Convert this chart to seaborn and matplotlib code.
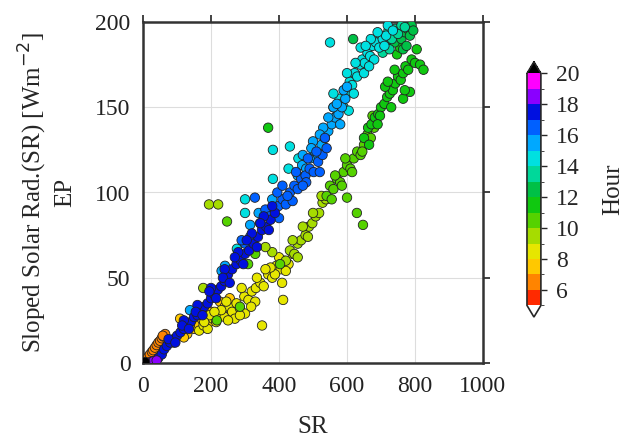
import numpy as np
import pandas as pd
import matplotlib
matplotlib.use("Agg")
import matplotlib.pyplot as plt
import matplotlib.colors as mcolors
import seaborn as sns

#### values, one group per hour bin
sr_h05 = [6, 12]
ep_h05 = [0.8, 2]
sr_h06 = [10, 15, 20, 26, 30, 35, 40, 45, 50, 55, 60, 65, 58]
ep_h06 = [2, 3.5, 5, 6.5, 7.5, 9, 10.5, 12, 13, 14.5, 15.5, 17, 16]
sr_h07 = [90, 109, 130, 150, 165, 175, 182, 195, 210, 226, 240, 255, 120, 200, 235]
ep_h07 = [12, 26, 17, 20, 22, 25, 21, 24, 27, 36, 33, 38, 15, 30, 28]
sr_h08 = [165, 178, 190, 205, 215, 228, 240, 252, 262, 275, 285, 298, 310, 320, 332,
          345, 355, 368, 380, 392, 405, 415, 428, 440, 350, 412, 409, 270,
          300, 330, 388, 195, 230, 250, 285, 318,
          180, 210, 245, 290, 335, 375, 420, 360, 400]
ep_h08 = [19, 22, 20, 26, 24, 28, 27, 33, 30, 35, 32, 39, 37, 42, 44,
          47, 45, 52, 50, 57, 55, 60, 58, 64, 22, 37, 47, 26,
          29, 36, 52, 28, 31, 25, 28, 33,
          24, 30, 36, 44, 50, 56, 54, 55, 62]
sr_h09 = [420, 432, 445, 455, 465, 478, 488, 498, 508, 518, 528, 538, 440, 470, 500,
          525, 177, 380, 360, 194, 221, 455, 485]
ep_h09 = [60, 66, 64, 70, 72, 75, 80, 82, 86, 88, 94, 96, 72, 80, 88,
          98, 44, 65, 68, 93, 93, 62, 74]
sr_h10 = [540, 550, 560, 570, 580, 590, 600, 610, 620, 630, 640, 650, 660, 670, 680,
          555, 585, 615, 645, 675, 247, 600, 629, 647, 330, 309, 403, 285, 217, 565, 595]
ep_h10 = [98, 104, 102, 108, 106, 112, 116, 114, 120, 124, 122, 128, 134, 132, 138,
          96, 104, 112, 124, 145, 83, 97, 88, 81, 64, 58, 58, 33, 25, 110, 120]
sr_h11 = [650, 662, 672, 682, 692, 700, 710, 718, 726, 735, 742, 750, 758, 765, 772,
          780, 790, 800, 815, 825, 697, 712, 765, 785, 747, 756, 368, 665, 690, 730,
          770, 805, 720, 740]
ep_h11 = [132, 138, 140, 144, 146, 150, 152, 156, 158, 160, 164, 168, 166, 170, 174,
          172, 178, 176, 175, 172, 145, 162, 155, 159, 181, 185, 138, 128, 140, 150,
          160, 184, 165, 172]
sr_h12 = [740, 752, 760, 770, 778, 785, 790, 765, 748, 775, 795, 618]
ep_h12 = [188, 192, 190, 194, 196, 192, 198, 184, 196, 186, 195, 190]
sr_h13 = [690, 700, 712, 722, 732, 742, 750, 760, 770, 705, 725]
ep_h13 = [186, 192, 188, 195, 190, 196, 193, 198, 197, 182, 184]
sr_h14 = [560, 570, 578, 585, 592, 600, 608, 615, 622, 630, 638, 645, 652, 660, 668,
          675, 685, 695, 705, 715, 590, 620, 650, 680, 605, 640, 670, 550,
          382, 432, 457, 428, 382, 344, 300, 300, 276, 247,
          600, 625, 655, 690, 710, 720, 735, 665, 560]
ep_h14 = [150, 145, 155, 152, 160, 158, 165, 163, 170, 168, 175, 178, 176, 182, 180,
          186, 188, 185, 190, 192, 150, 158, 170, 178, 148, 185, 190, 188,
          125, 127, 120, 114, 108, 82, 96, 88, 67, 52,
          170, 176, 186, 194, 186, 198, 195, 174, 158]
sr_h15 = [455, 468, 480, 492, 505, 515, 525, 535, 545, 555, 565, 575, 585, 595, 500,
          530, 560, 590, 138, 241, 231, 315, 340, 380,
          470, 495, 520, 545, 570, 580, 600]
ep_h15 = [110, 116, 114, 120, 124, 122, 128, 132, 136, 140, 144, 146, 150, 155, 130,
          138, 150, 160, 31, 57, 54, 81, 88, 96,
          122, 126, 134, 144, 152, 140, 162]
sr_h16 = [385, 398, 410, 420, 432, 445, 455, 465, 478, 490, 502, 515, 528, 540, 400,
          440, 480, 520, 300, 315, 290, 329,
          360, 372, 395, 410, 425, 450, 470, 485, 510, 535]
ep_h16 = [88, 92, 96, 93, 100, 104, 102, 108, 110, 114, 112, 118, 122, 126, 85,
          95, 106, 112, 70, 74, 72, 97,
          90, 86, 100, 104, 98, 112, 104, 120, 124, 132]
sr_h17 = [45, 55, 62, 70, 80, 90, 100, 110, 120, 130, 140, 150, 160, 170, 180,
          190, 200, 210, 220, 230, 240, 250, 262, 275, 288, 300, 312, 325, 338, 350,
          362, 375, 388, 120, 160, 200, 240, 280, 320, 355,
          75, 95, 115, 135, 155, 175, 195, 215, 235, 255, 270, 295, 305, 335, 345, 370, 380]
ep_h17 = [3, 5, 8, 10, 12, 14, 16, 18, 20, 22, 24, 27, 28, 31, 33,
          35, 38, 40, 43, 45, 48, 52, 55, 58, 60, 64, 66, 70, 74, 78,
          80, 84, 88, 25, 34, 44, 55, 65, 76, 86,
          14, 12, 22, 20, 30, 28, 42, 38, 50, 47, 62, 58, 72, 68, 82, 78, 92]
sr_h18 = [20, 30, 40]
ep_h18 = [0.5, 1, 1.5]
sr_h21 = [2, 6]
ep_h21 = [0.3, 0.6]

hour_bins = [5.5, 6.5, 7.5, 8.5, 9.5, 10.5, 11.5, 12.5, 13.5, 14.5, 15.5, 16.5, 17.5, 18.5, 21]
sr_groups = [sr_h05, sr_h06, sr_h07, sr_h08, sr_h09, sr_h10, sr_h11, sr_h12, sr_h13,
             sr_h14, sr_h15, sr_h16, sr_h17, sr_h18, sr_h21]
ep_groups = [ep_h05, ep_h06, ep_h07, ep_h08, ep_h09, ep_h10, ep_h11, ep_h12, ep_h13,
             ep_h14, ep_h15, ep_h16, ep_h17, ep_h18, ep_h21]

#### colour table of the Hour bar (5 -> 20, one colour per hour)
bar_colors = ['#ff2a00', '#ff8400', '#ffc800', '#e6e600', '#a6dc00', '#55d200', '#10c810',
              '#00c046', '#00d89a', '#00e0e0', '#00a8ff', '#0060ff', '#0010e0', '#8a00ff', '#ff00ff']
bounds = list(range(5, 21))

frames = []
for h, s, e in zip(hour_bins, sr_groups, ep_groups):
    frames.append(pd.DataFrame({'SR': s, 'EP': e, 'Hour': h}))
df = pd.concat(frames, ignore_index=True)

cmap = mcolors.ListedColormap(bar_colors)
cmap.set_over('black')
cmap.set_under('white')
norm = mcolors.BoundaryNorm(bounds, cmap.N)

sns.set_style('white')
plt.rcParams['font.family'] = ['Liberation Serif', 'DejaVu Serif']

fig = plt.figure(figsize=(6.33, 4.4), dpi=100)
ax = fig.add_axes([0.226, 0.175, 0.537, 0.775])

pal = {h: cmap(norm([h]))[0] for h in hour_bins}
sns.scatterplot(data=df, x='SR', y='EP', hue='Hour', palette=pal, s=46,
                edgecolor='#222222', linewidth=0.6, legend=False, ax=ax, zorder=3)

ax.set_xlim(0, 1000)
ax.set_ylim(0, 200)
ax.set_xticks([0, 200, 400, 600, 800, 1000])
ax.set_yticks([0, 50, 100, 150, 200])
ax.grid(True, color='#dddddd', linewidth=0.8)
for sp in ax.spines.values():
    sp.set_color('#333333')
    sp.set_linewidth(1.8)
ax.tick_params(direction='out', length=5, width=1.2, labelsize=17, colors='#222222',
               top=True, right=True, pad=4)
ax.set_xlabel('SR', fontsize=18, labelpad=14)
ax.set_ylabel('Sloped Solar Rad.(SR) [Wm$^{-2}$]\nEP', fontsize=18, labelpad=14,
              linespacing=1.3)

#### colorbar
cax = fig.add_axes([0.8325, 0.2795, 0.022, 0.58])
sm = plt.cm.ScalarMappable(norm=norm, cmap=cmap)
cb = fig.colorbar(sm, cax=cax, extend='both', ticks=[6, 8, 10, 12, 14, 16, 18, 20])
cb.ax.tick_params(labelsize=17, length=4, width=1, pad=7)
cb.ax.set_yticks(range(5, 21), minor=True)
cb.outline.set_linewidth(1.2)
cb.set_label('Hour', fontsize=18, labelpad=16)

fig.savefig('out.png', dpi=100)
